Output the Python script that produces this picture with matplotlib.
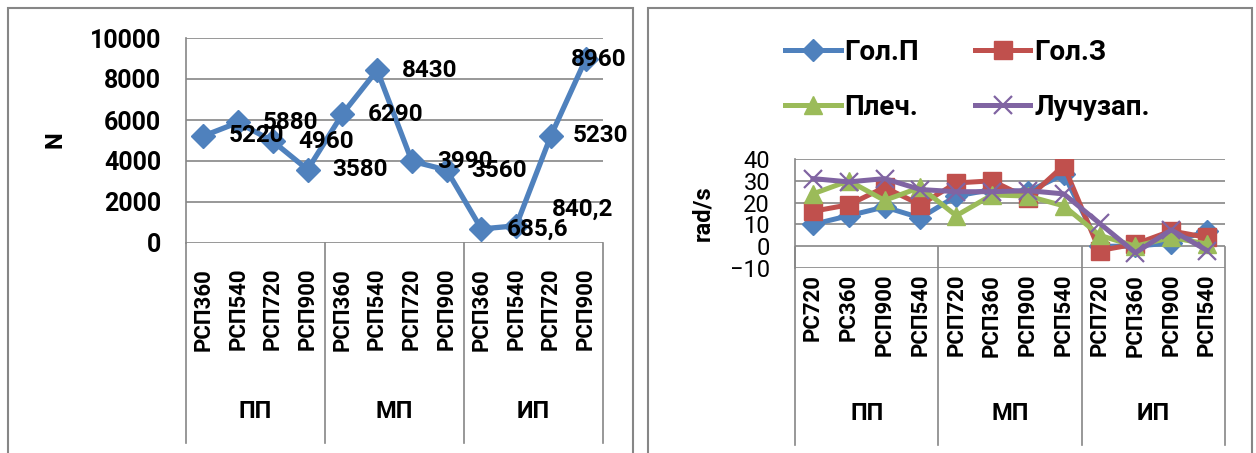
import matplotlib
matplotlib.use('Agg')
import matplotlib.pyplot as plt
import matplotlib.transforms as mtransforms
from matplotlib.patches import Rectangle

plt.rcParams['font.family'] = ['Roboto', 'Noto Sans', 'DejaVu Sans']

# left chart: force, N
groups = ['ПП', 'МП', 'ИП']
force_cats = ['РСП360', 'РСП540', 'РСП720', 'РСП900'] * 3
force = [5220, 5880, 4960, 3580, 6290, 8430, 3990, 3560, 685.6, 840.2, 5230, 8960]

# right chart: angular velocity, rad/s
vel_cats = ['РС720', 'РС360', 'РСП900', 'РСП540',
            'РСП720', 'РСП360', 'РСП900', 'РСП540',
            'РСП720', 'РСП360', 'РСП900', 'РСП540']
series_names = ['Гол.П', 'Гол.З', 'Плеч.', 'Лучузап.']
gol_p = [10, 14, 18, 13, 23, 26, 25, 33, 0, 0, 1.5, 7]
gol_z = [16, 19, 27, 19, 29, 30, 22, 37, -2, 1, 7, 4]
plech = [24, 30, 21, 27, 14, 23.5, 23, 18.5, 5, 0, 4, 1]
luch = [31, 29.5, 31, 26, 25, 25, 25.5, 24, 10.5, -3, 7.5, -2]

W, H = 1256, 453
GRID = '#868686'
BLUE, RED, GREEN, PURPLE = '#4F81BD', '#C0504D', '#9BBB59', '#8064A2'


def box(px0, py0, px1, py1):
    return [px0 / W, 1 - py1 / H, (px1 - px0) / W, (py1 - py0) / H]


def fy(py):
    return 1 - py / H


fig = plt.figure(figsize=(W / 100, H / 100), dpi=100)

# chart frames
for x0, x1 in [(8, 633), (648, 1252)]:
    fig.add_artist(Rectangle((x0 / W, fy(470)), (x1 - x0) / W, (470 - 8) / H,
                             transform=fig.transFigure, fill=False,
                             edgecolor=GRID, lw=1.5))


def category_axis(ax, cats, axis_py, label_py, group_py, bottom_py, fs):
    tr = mtransforms.blended_transform_factory(ax.transData, fig.transFigure)
    n = len(cats)
    for i, c in enumerate(cats):
        ax.text(i, fy(label_py), c, transform=tr, rotation=90, ha='center',
                va='top', fontsize=fs, fontweight='bold')
    for g, name in enumerate(groups):
        ax.text(g * 4 + 1.5, fy(group_py), name, transform=tr, ha='center',
                va='center', fontsize=fs + 1, fontweight='bold')
    for b in range(0, n + 1, 4):
        ax.plot([b - 0.5, b - 0.5], [fy(axis_py), fy(bottom_py)], transform=tr,
                color=GRID, lw=1.2, clip_on=False)


def style_axes(ax, ticks):
    ax.set_xlim(-0.5, 11.5)
    ax.set_xticks([])
    ax.set_yticks(ticks)
    ax.yaxis.grid(True, color=GRID, lw=1.2)
    ax.set_axisbelow(True)
    for s in ['top', 'right', 'bottom']:
        ax.spines[s].set_visible(False)
    ax.spines['left'].set_color(GRID)
    ax.spines['left'].set_linewidth(1.2)
    ax.tick_params(axis='y', length=0, pad=18)


# ---- left chart ----
ax1 = fig.add_axes(box(186, 38, 603, 243))
x = list(range(len(force)))
ax1.plot(x, force, color=BLUE, lw=3.8, marker='D', ms=12, zorder=3)
ax1.set_ylim(0, 10000)
style_axes(ax1, [0, 2000, 4000, 6000, 8000, 10000])
for t in ax1.get_yticklabels():
    t.set_fontsize(18)
    t.set_fontweight('bold')
label_offsets = [(25, 0)] * 9 + [(36, 16), (22, 0), (-15, 0)]
for i, v in enumerate(force):
    ax1.annotate(f'{v:g}'.replace('.', ','), (i, v), xytext=label_offsets[i],
                 textcoords='offset pixels', ha='left', va='center',
                 fontsize=17.5, fontweight='bold', zorder=4)
category_axis(ax1, force_cats, 243, 268, 412, 443, 16)
fig.text(55 / W, fy(140), 'N', rotation=90, ha='center', va='center',
         fontsize=17, fontweight='bold')

# ---- right chart ----
ax2 = fig.add_axes(box(795, 159, 1225, 268))
styles = [(gol_p, BLUE, 'D', 11), (gol_z, RED, 's', 13),
          (plech, GREEN, '^', 13), (luch, PURPLE, 'x', 13)]
lines = []
for (vals, col, mk, ms), name in zip(styles, series_names):
    ln, = ax2.plot(range(len(vals)), vals, color=col, lw=3.6, marker=mk, ms=ms,
                   mew=1.6 if mk == 'x' else 1, label=name, zorder=3)
    lines.append(ln)
ax2.set_ylim(-10, 40)
style_axes(ax2, [-10, 0, 10, 20, 30, 40])
for t in ax2.get_yticklabels():
    t.set_fontsize(17)
category_axis(ax2, vel_cats, 247, 274, 413, 445, 16)
fig.text(703 / W, fy(213), 'rad/s', rotation=90, ha='center', va='center',
         fontsize=17, fontweight='bold')

# two rows: Гол.П / Гол.З on top, Плеч. / Лучузап. below
order = [0, 2, 1, 3]
leg = ax2.legend([lines[i] for i in order], [series_names[i] for i in order],
                 loc='center left', bbox_to_anchor=(760 / W, fy(80)),
                 bbox_transform=fig.transFigure, ncol=2, frameon=False,
                 prop={'size': 20, 'weight': 'bold'}, handlelength=2.0,
                 handletextpad=0.15, columnspacing=2.0, labelspacing=1.0)

fig.savefig('out.png', dpi=100)
